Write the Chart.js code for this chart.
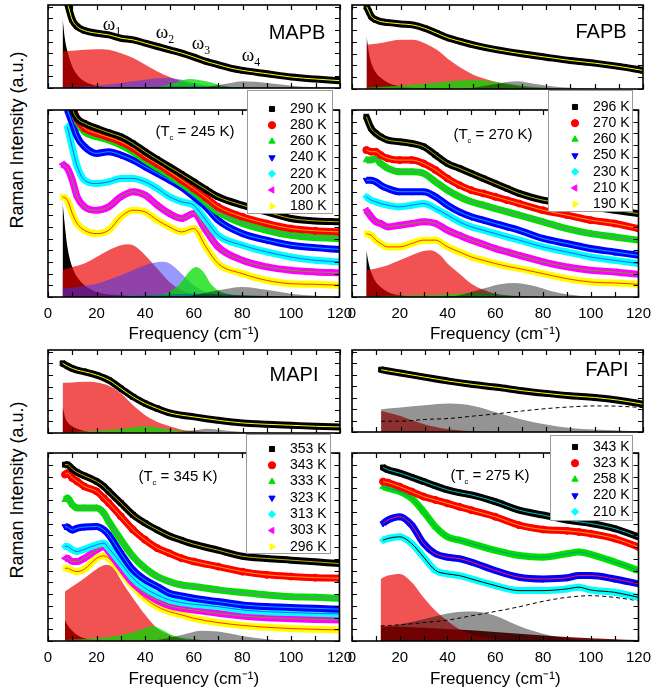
<!DOCTYPE html>
<html>
<head>
<meta charset="utf-8">
<script src="https://cdn.jsdelivr.net/npm/chart.js@4.4.1/dist/chart.umd.min.js"></script>
<style>
html, body { margin: 0; padding: 0; background: #fff; }
#page { position: relative; width: 659px; height: 694px; overflow: hidden; }
.box { position: absolute; }
.ylab { position: absolute; font: 18px 'Liberation Sans', Arial, sans-serif; white-space: nowrap;
        transform: translate(-50%, -50%) rotate(-90deg); }
</style>
</head>
<body>
<div id="page">
  <div class="ylab" style="left:17px;top:140px">Raman Intensity (a.u.)</div>
  <div class="ylab" style="left:17px;top:490px">Raman Intensity (a.u.)</div>
  <div class="box" style="left:0;top:0"><canvas id="mapbTop" width="360" height="100"></canvas></div>
  <div class="box" style="left:0;top:85px"><canvas id="mapb" width="360" height="264"></canvas></div>
  <div class="box" style="left:330px;top:0"><canvas id="fapbTop" width="329" height="100"></canvas></div>
  <div class="box" style="left:330px;top:85px"><canvas id="fapb" width="329" height="264"></canvas></div>
  <div class="box" style="left:0;top:345px"><canvas id="mapiTop" width="360" height="100"></canvas></div>
  <div class="box" style="left:0;top:428px"><canvas id="mapi" width="360" height="266"></canvas></div>
  <div class="box" style="left:330px;top:345px"><canvas id="fapiTop" width="329" height="100"></canvas></div>
  <div class="box" style="left:330px;top:428px"><canvas id="fapi" width="329" height="266"></canvas></div>
</div>
<script>
"use strict";

// ---- MAPB ----
const MAPB_TOP_X = [8, 10, 12, 15, 20, 25, 30, 35, 40, 45, 50, 55, 60, 65, 70, 75, 80, 90, 100, 110, 120];
const MAPB_TOP_Y = [102, 82, 74, 69.2, 66, 64, 60, 58, 54, 50, 46, 42, 37.2, 32, 28, 24, 21.2, 17.2, 13.2, 10.8, 8.8];
const MAPB_TOP_CP = [[6, 84], [7, 58], [8, 44], [10, 26], [12, 16], [15, 8], [20, 2.8], [30, 0.4], [40, 0]];
const MAPB_TOP_W1 = [[6, 44], [10, 44.8], [15, 46], [20, 46.8], [25, 46], [30, 42], [35, 36], [40, 28], [45, 20], [50, 13.2], [55, 8], [60, 4], [70, 0.8], [80, 0]];
const MAPB_TOP_W2 = [[6, 1.2], [20, 2.8], [30, 6], [40, 10], [48, 12], [55, 10], [60, 6], [70, 1.6], [80, 0]];
const MAPB_TOP_W3 = [[40, 0], [45, 1.2], [52, 6], [58, 10.8], [65, 8], [70, 4], [75, 1.2], [85, 0]];
const MAPB_TOP_W4 = [[60, 0], [65, 1.2], [75, 6], [80, 8], [90, 6], [100, 2.8], [110, 0.8], [120, 0.2]];
const MAPB_TOP_W5 = [[30, 0], [40, 0.8], [55, 2], [70, 1.2], [85, 0]];

const MAPB_X = [6, 8, 10, 12, 15, 20, 25, 30, 35, 40, 45, 50, 55, 60, 65, 70, 80, 90, 100, 110, 120];
const MAPB_LABELS = ['290 K', '280 K', '260 K', '240 K', '220 K', '200 K', '180 K'];
const MAPB_290 = [null, 115, 101, 95.5, 92.9, 90.2, 87.9, 85.7, 82.1, 77.7, 73.6, 69.6, 65.7, 61.6, 57.5, 53.6, 49.1, 45.5, 42, 40.7, 40.2];
const MAPB_280 = [null, 112, 103, 95, 90.2, 87.5, 85.4, 83, 79.5, 75, 71.1, 67, 62.5, 58, 53.2, 48.2, 42.9, 39.3, 36.6, 35.4, 34.8];
const MAPB_260 = [null, 110, 102, 94, 88.4, 85.7, 83.9, 81.3, 77.7, 73.2, 69.1, 65.2, 60.7, 56.3, 50.9, 45.5, 39.3, 35.7, 33, 31.8, 31.3];
const MAPB_240 = [null, 100, 92.9, 85.7, 80.4, 76.8, 77.7, 75.9, 73.2, 69.6, 66.1, 62.5, 58.6, 53.6, 48.2, 41.1, 33.9, 30.4, 27.7, 26.4, 25.4];
const MAPB_220 = [null, 91, 80, 70, 62.5, 60.7, 61.6, 63.4, 63.4, 61.6, 58, 53.6, 50.9, 49.1, 41.1, 33, 27.7, 24.1, 21.4, 19.6, 18.8];
const MAPB_200 = [71, 68.8, 62.5, 53.6, 48.2, 46.4, 48.2, 53.6, 56.3, 54.5, 49.1, 44.6, 42, 44.6, 35.7, 26.8, 19.6, 16.1, 14.3, 13.4, 12.9];
const MAPB_180 = [53.6, 51.8, 44.6, 39.3, 35.7, 33.9, 35.7, 42.9, 46.4, 45.5, 41.1, 37.5, 34.8, 36.6, 26.8, 17.9, 12.5, 8.9, 7.1, 6.8, 6.3];
const MAPB_CP = [[6, 50.9], [7, 37.5], [8, 26.8], [10, 16], [12, 10.7], [15, 6.3], [20, 2.7], [30, 0.9], [40, 0]];
const MAPB_W1 = [[6, 14.3], [10, 16], [15, 17.9], [20, 21.4], [25, 25], [30, 27.7], [33, 28.2], [36, 27], [40, 22.3], [45, 15.2], [50, 8], [55, 3.6], [60, 1.4], [70, 0]];
const MAPB_W2 = [[6, 4.5], [10, 5], [20, 7.1], [30, 11.6], [40, 17], [47, 18.8], [50, 17.9], [55, 12.5], [60, 6.3], [65, 2.7], [70, 0.9], [80, 0]];
const MAPB_W3 = [[40, 0], [50, 2.7], [55, 8], [58, 13.4], [61, 16], [64, 13.4], [67, 7.1], [70, 3.6], [75, 1.4], [85, 0]];
const MAPB_W4 = [[55, 0], [60, 0.9], [70, 3.6], [80, 5.4], [90, 3.9], [100, 1.8], [110, 0.7], [120, 0.4]];
const MAPB_W5 = [[20, 0], [30, 0.5], [50, 1.5], [60, 1.8], [70, 1.5], [90, 0.5], [100, 0]];

// ---- FAPB ----
const FAPB_TOP_X = [6, 7, 8, 10, 12, 15, 20, 25, 30, 35, 40, 45, 50, 60, 70, 80, 90, 100, 110, 120];
const FAPB_TOP_Y = [98, 92, 86.2, 82.2, 80.2, 79, 77.5, 76.3, 72.3, 66.4, 60.5, 56.5, 52.6, 46.6, 41.9, 37.9, 34, 30.8, 26.9, 22.1];
const FAPB_TOP_CP = [[6, 62.5], [7, 42.7], [8, 30.8], [10, 19], [12, 13], [15, 7.1], [20, 3.2], [30, 0.8], [40, 0]];
const FAPB_TOP_W1 = [[6, 52.6], [10, 53.8], [15, 56.5], [20, 58.5], [25, 58.5], [30, 54.5], [35, 46.6], [40, 34.8], [45, 24.9], [50, 17], [55, 11.9], [60, 7.9], [70, 2.4], [80, 0.8], [90, 0]];
const FAPB_TOP_W2 = [[6, 1.6], [20, 4], [30, 6.3], [40, 9.1], [50, 11.1], [60, 7.9], [70, 4], [80, 1.6], [90, 0]];
const FAPB_TOP_W3 = [[45, 0], [50, 1.6], [60, 6.3], [68, 9.1], [75, 6.3], [85, 2.4], [95, 0.8], [105, 0]];

const FAPB_X = [6, 8, 10, 12, 15, 20, 25, 30, 35, 40, 45, 50, 55, 60, 65, 70, 80, 90, 100, 110, 120];
const FAPB_LABELS = ['296 K', '270 K', '260 K', '250 K', '230 K', '210 K', '190 K'];
const FAPB_296 = [96.4, 90.2, 87.5, 85.7, 83.9, 83, 82.1, 80.4, 75.9, 71.4, 68.8, 66.1, 63.4, 60.7, 58, 55.4, 51.8, 50, 48.2, 46.4, 44.6];
const FAPB_270 = [78.6, 77.7, 77.7, 75.9, 74.1, 73.2, 73.2, 71.4, 67.9, 63.4, 59.8, 57.1, 55.4, 53.6, 51.8, 50, 46.4, 43.8, 41.1, 39.3, 36.6];
const FAPB_260 = [73.2, 73.2, 74.1, 71.4, 68.8, 67, 67, 66.1, 61.6, 57.1, 53.6, 50.9, 49.1, 47.3, 45.5, 43.8, 40.2, 36.6, 33.9, 32.1, 30.4];
const FAPB_250 = [62.5, 62.5, 61.6, 59.8, 58, 56.3, 56.3, 56.3, 53.6, 49.1, 45.5, 42.9, 41.1, 39.3, 37.5, 35.7, 31.3, 28.6, 25.9, 24.1, 22.3];
const FAPB_230 = [53.6, 51.8, 50.9, 50, 49.1, 48.2, 49.1, 50, 47.3, 43.8, 40.2, 37.5, 35.7, 33.9, 32.1, 30.4, 26.8, 24.1, 21.4, 19.6, 17.9];
const FAPB_210 = [46.4, 42.9, 40.2, 39.3, 37.5, 38.4, 39.3, 40.2, 39.3, 35.7, 33, 30.4, 28.2, 25.9, 24.1, 22.3, 18.8, 16.1, 14.3, 13.4, 12.1];
const FAPB_190 = [33.9, 33, 30.4, 28.6, 26.8, 26.8, 28.6, 30.4, 30.4, 26.8, 24.1, 21.4, 19.6, 17.9, 16.4, 15.2, 12.5, 9.8, 8, 7.5, 6.8];
const FAPB_CP = [[6, 25], [7, 17.9], [8, 13.4], [10, 8], [12, 5.4], [15, 2.7], [20, 0.9], [30, 0]];
const FAPB_W1 = [[6, 14.3], [10, 15.2], [15, 17], [20, 19.6], [25, 22.3], [30, 24.6], [33, 25], [37, 22.3], [40, 17.9], [45, 12.5], [50, 7.1], [55, 3.9], [60, 1.8], [70, 0.4], [80, 0]];
const FAPB_W2 = [[6, 0.4], [30, 0.9], [45, 1.8], [52, 2.3], [60, 1.4], [70, 0.5], [80, 0]];
const FAPB_W3 = [[40, 0], [45, 0.9], [55, 4.5], [62, 6.8], [68, 7.5], [75, 6.3], [85, 2.7], [95, 0.7], [105, 0]];

// ---- MAPI ----
const MAPI_TOP_X = [6, 8, 10, 12, 15, 20, 25, 30, 35, 40, 45, 50, 55, 60, 70, 80, 90, 100, 110, 120];
const MAPI_TOP_Y = [83.9, 80.6, 77.8, 75.8, 73.8, 69.8, 63.7, 53.6, 43.5, 35.5, 29.4, 24.2, 21.4, 19.4, 15.3, 12.1, 10.5, 9.3, 8.1, 7.3];
const MAPI_TOP_CP = [[6, 31.5], [7, 19.4], [8, 13.3], [10, 8.1], [12, 5.2], [15, 2.4], [20, 0.8], [30, 0]];
const MAPI_TOP_W1 = [[6, 60.5], [10, 60.9], [15, 61.7], [20, 60.9], [25, 57], [30, 47.6], [35, 33.5], [40, 21.4], [45, 13.3], [50, 8.1], [55, 4], [60, 2], [70, 0.4], [80, 0]];
const MAPI_TOP_W2 = [[6, 0.8], [20, 2.4], [30, 4.8], [40, 8.1], [45, 6.5], [50, 4], [60, 1.2], [70, 0]];
const MAPI_TOP_W3 = [[45, 0], [50, 0.4], [60, 3.2], [65, 5.2], [70, 4], [80, 1.2], [90, 0]];

const MAPI_X = [7, 8, 10, 12, 15, 20, 23, 25, 30, 35, 40, 45, 50, 55, 60, 70, 80, 90, 100, 110, 120];
const MAPI_LABELS = ['353 K', '343 K', '333 K', '323 K', '313 K', '303 K', '296 K'];
const MAPI_353 = [93.8, 93.8, 91.5, 89.7, 87.9, 84.9, 82.2, 79.6, 73.4, 67.1, 62.7, 59.1, 55.9, 53.6, 51.5, 48.3, 45.1, 43.9, 43, 42.1, 41.2];
const MAPI_343 = [88.5, 89.3, 86.7, 84.9, 82.2, 79.6, 76, 73.4, 66.3, 59.2, 53.8, 49.4, 46.7, 44, 42.3, 39.6, 36.9, 35.2, 34.3, 33.7, 33.4];
const MAPI_333 = [75.1, 76, 72.5, 70.7, 70.7, 70.7, 68, 63.6, 53.8, 44.9, 38.7, 34.3, 31.6, 29.8, 29, 27.2, 25.8, 24.5, 23.6, 23.3, 22.7];
const MAPI_323 = [60.9, 60.6, 59.1, 60, 60.6, 60.9, 59.1, 56.5, 46.7, 37.8, 32.5, 29, 25.4, 24, 22.7, 21, 19.2, 18.3, 17.8, 17.4, 16.9];
const MAPI_313 = [50.3, 50.3, 48.5, 47.6, 48.8, 51.2, 52, 49.4, 41.4, 33.4, 28.1, 24.5, 21.8, 20.4, 19.5, 18.3, 16.5, 15.6, 15.1, 14.7, 14.4];
const MAPI_303 = [44, 44, 42.3, 42.3, 44, 48.5, 50.3, 47.6, 38.7, 30.7, 25.4, 21.5, 18.8, 17.4, 16.5, 14.7, 13.3, 12.4, 11.9, 11.5, 11.2];
const MAPI_296 = [38.7, 38.7, 37.5, 36.9, 38.2, 44, 45.3, 44, 36.9, 29, 22.7, 18.3, 15.6, 13.9, 12.1, 9.8, 8.3, 7.3, 6.6, 6.2, 5.9];
const MAPI_CP = [[7, 11.2], [8, 8.5], [10, 5.5], [12, 3.2], [15, 1.4], [20, 0.5], [30, 0]];
const MAPI_W1 = [[7, 26.3], [10, 29], [15, 33.4], [20, 38.2], [24, 40.5], [27, 38.7], [30, 32.5], [35, 22.7], [40, 13.9], [45, 6.7], [50, 3.2], [55, 0.9], [65, 0]];
const MAPI_W2 = [[7, 0.5], [20, 1.4], [30, 3.2], [38, 5.9], [43, 8], [47, 5.9], [52, 2.7], [60, 0.9], [70, 0]];
const MAPI_W3 = [[40, 0], [45, 0.5], [55, 3.2], [63, 5.5], [70, 5], [80, 2.7], [90, 0.9], [100, 0]];

// ---- FAPI ----
const FAPI_TOP_X = [12, 15, 20, 30, 40, 50, 60, 70, 80, 90, 100, 110, 120];
const FAPI_TOP_Y = [76, 74.4, 71.9, 66.9, 62, 57.9, 54.5, 50.4, 47.1, 44.2, 42.1, 38.8, 33.9];
const FAPI_TOP_W1 = [[12, 25.6], [15, 23.6], [20, 19.4], [25, 14], [30, 9.1], [35, 5.8], [40, 3.3], [50, 0.8], [60, 0]];
const FAPI_TOP_W2 = [[12, 27.7], [20, 29.8], [30, 32.6], [40, 34.7], [50, 31.8], [60, 23.6], [70, 15.3], [80, 9.1], [90, 5], [100, 2.9], [110, 1.7], [120, 0.8]];
const FAPI_TOP_BG = [[12, 13.2], [20, 13.2], [30, 15.3], [40, 16.5], [50, 19.4], [60, 22.3], [70, 25.6], [80, 28.5], [90, 30.6], [100, 31.8], [110, 31.4], [120, 29.8]];

const FAPI_X = [13, 15, 20, 25, 30, 35, 40, 45, 50, 60, 70, 80, 90, 95, 100, 110, 120];
const FAPI_LABELS = ['343 K', '323 K', '258 K', '220 K', '210 K'];
const FAPI_343 = [92.3, 91.1, 89.3, 87.1, 84.8, 82.5, 80.4, 78.9, 77.7, 74.1, 69.6, 67, 64.3, 63.4, 62.5, 59.8, 55.4];
const FAPI_323 = [84.8, 84.3, 82.1, 79.5, 76.8, 75, 73.2, 71.4, 69.6, 66.1, 61.6, 59.3, 58.6, 58, 57.1, 54.5, 50];
const FAPI_258 = [82.1, 81.3, 79.5, 75.9, 68.8, 60.7, 55.4, 53.6, 51.8, 48.2, 45.5, 44.6, 46.4, 47.3, 46.1, 42, 37.5];
const FAPI_220 = [62.5, 64.3, 66.1, 61.6, 51.8, 46.4, 44.6, 43.8, 42, 37.5, 33.9, 33, 33.6, 34.8, 34.8, 33, 30.4];
const FAPI_210 = [53.6, 54.5, 55.4, 51.8, 44.6, 37.5, 35.7, 34.8, 33, 29.5, 26.8, 26.8, 27.7, 28.6, 27.1, 25.9, 23.2];
const FAPI_W0 = [[12, 8], [30, 7.1], [50, 5.7], [70, 3.9], [90, 2.1], [110, 0.9], [120, 0.5]];
const FAPI_W1 = [[12, 33], [15, 34.8], [20, 35.7], [25, 31.3], [30, 23.2], [35, 16.1], [40, 10.7], [45, 6.3], [50, 3.6], [60, 0.9], [70, 0]];
const FAPI_W2 = [[12, 7.1], [20, 8.9], [30, 11.6], [40, 14.6], [48, 15.7], [55, 15.2], [60, 13.4], [70, 8], [80, 3.9], [90, 1.4], [100, 0.4], [110, 0]];
const FAPI_BG = [[12, 8], [20, 8.6], [30, 9.8], [40, 11.1], [50, 13.4], [60, 15.7], [70, 18.2], [80, 21.1], [90, 23.2], [100, 24.1], [110, 23.2], [120, 21.4]];

// ---- styles ----
const FONT = "'Liberation Sans', Arial, Helvetica, sans-serif";
const SERIF = "'Liberation Serif', 'Times New Roman', serif";
const COLORS = ['#000000', '#ff0000', '#00e000', '#0000ff', '#00ffff', '#ff00ff', '#ffff00'];
const FITS = ['#b4b400', '#ffa000', '#9a6ac8', '#00a8ff', '#2060ff', '#60b000', '#ff3000'];
const FAPI_FITS = ['#00c0c0', '#ffa000', '#0090a0', '#ff2020', '#000000'];
const STYLES = ['rect', 'circle', 'triangle', 'triangle', 'rectRot', 'triangle', 'triangle'];
const ROTS = [0, 0, 0, 180, 0, -90, 90];
const C_CP = '#000000';
const C_RED = 'rgba(235,0,0,0.68)';
const C_BLUE = 'rgba(50,50,255,0.5)';
const C_GREEN = 'rgba(0,220,0,0.75)';
const C_GREY = 'rgba(0,0,0,0.42)';
const C_TEAL = 'rgba(0,128,128,0.85)';
const C_DARK = 'rgba(110,0,0,0.95)';

Chart.defaults.font.family = FONT;
Chart.defaults.color = '#000';

const pts = arr => arr.map(p => ({x: p[0], y: p[1]}));

function drawRich(ctx, t) {
  const fam = t.font || FONT;
  const subScale = t.subScale || 0.62;
  const sizeOf = p => p[1] ? t.size * subScale : t.size;
  let w = 0;
  t.parts.forEach(p => { ctx.font = sizeOf(p) + 'px ' + fam; w += ctx.measureText(p[0]).width; });
  let x = t.cx - w / 2;
  t.parts.forEach(p => {
    ctx.font = sizeOf(p) + 'px ' + fam;
    ctx.fillText(p[0], x, t.cy + (p[1] ? t.size * (t.subDrop || 0.38) : 0));
    x += ctx.measureText(p[0]).width;
  });
}

const decor = {
  id: 'decor',
  afterDraw(chart, args, o) {
    const ctx = chart.ctx, a = chart.chartArea;
    const xs = chart.scales.x, ys = chart.scales.y;
    ctx.save();
    ctx.strokeStyle = '#000';
    ctx.lineWidth = 1.2;
    ctx.beginPath();
    for (let v = 0; v <= 120; v += 10) {
      const px = Math.round(xs.getPixelForValue(v)) + 0.5;
      ctx.moveTo(px, a.bottom); ctx.lineTo(px, a.bottom - 5);
      ctx.moveTo(px, a.top); ctx.lineTo(px, a.top + 5);
    }
    for (let v = 0; v <= 100; v += o.yStep) {
      const py = Math.round(ys.getPixelForValue(v)) + 0.5;
      ctx.moveTo(a.left, py); ctx.lineTo(a.left + 5, py);
      ctx.moveTo(a.right, py); ctx.lineTo(a.right - 5, py);
    }
    ctx.stroke();
    ctx.lineWidth = 1.6;
    ctx.strokeRect(a.left, a.top, a.right - a.left, a.bottom - a.top);

    ctx.fillStyle = '#000';
    ctx.textBaseline = 'middle';
    ctx.textAlign = 'left';
    (o.texts || []).forEach(t => drawRich(ctx, {...t, cx: a.left + t.x, cy: a.top + t.y}));

    const L = o.legend;
    if (L) {
      const bx = a.left + L.dx, by = a.top + L.dy;
      ctx.fillStyle = '#fff';
      ctx.fillRect(bx, by, L.w, L.h);
      ctx.strokeStyle = '#9a9a9a';
      ctx.lineWidth = 1;
      ctx.strokeRect(bx + 0.5, by + 0.5, L.w, L.h);
      ctx.font = '14px ' + FONT;
      L.labels.forEach((lab, i) => {
        const yy = by + L.first + i * L.gap;
        ctx.fillStyle = COLORS[i];
        ctx.strokeStyle = COLORS[i];
        Chart.helpers.drawPoint(ctx, {pointStyle: STYLES[i], rotation: ROTS[i], radius: 3.6, borderWidth: 1}, bx + L.mx, yy);
        ctx.fillStyle = '#000';
        ctx.fillText(lab, bx + L.tx, yy);
      });
    }
    ctx.restore();
  }
};

function makeChart(id, p) {
  const datasets = [];
  p.comps.forEach((c, i) => datasets.push({
    data: pts(c[0]), backgroundColor: c[1], borderWidth: 0, pointRadius: 0,
    fill: 'origin', cubicInterpolationMode: 'monotone', order: 90 - i, clip: 0
  }));
  (p.dashed || []).forEach(d => datasets.push({
    data: pts(d), borderColor: '#000', borderWidth: 1, borderDash: [4, 3], pointRadius: 0,
    fill: false, cubicInterpolationMode: 'monotone', order: 45, clip: 0
  }));
  p.series.forEach((s, i) => {
    const d = [];
    p.x.forEach((v, k) => { if (s[k] != null) d.push({x: v, y: s[k]}); });
    datasets.push({
      data: d, borderColor: COLORS[i], backgroundColor: COLORS[i], borderWidth: 7,
      pointStyle: STYLES[i], pointRotation: ROTS[i], pointRadius: 3.5, pointBorderWidth: 1,
      fill: false, cubicInterpolationMode: 'monotone', order: 21 + 2 * i, clip: 0
    });
    datasets.push({
      data: d, borderColor: p.fits[i], borderWidth: 1, pointRadius: 0,
      fill: false, cubicInterpolationMode: 'monotone', order: 20 + 2 * i, clip: 0
    });
  });

  return new Chart(document.getElementById(id), {
    type: 'line',
    data: {datasets},
    plugins: [decor],
    options: {
      responsive: false, animation: false, events: [], devicePixelRatio: 1,
      layout: {padding: p.pad},
      plugins: {
        legend: {display: false}, tooltip: {enabled: false},
        decor: {yStep: p.yStep, texts: p.texts, legend: p.legend}
      },
      scales: {
        x: {
          type: 'linear', min: 0, max: 120,
          afterFit: s => { s.height = p.xh; },
          grid: {display: false, drawTicks: false}, border: {display: false},
          ticks: {display: p.xh > 0, stepSize: 20, autoSkip: false, maxRotation: 0, padding: 8, font: {size: 15}, color: '#000'},
          title: {display: p.xh > 0, text: 'Frequency (cm⁻¹)', font: {size: 17}, color: '#000', padding: {top: 0, bottom: 4}}
        },
        y: {
          type: 'linear', min: 0, max: 100,
          afterFit: s => { s.width = 0; },
          grid: {display: false, drawTicks: false}, border: {display: false},
          ticks: {display: false}
        }
      }
    }
  });
}

const tc = (v, x, y) => ({x, y, size: 15, subScale: 0.5, subDrop: 0.42, parts: [['(T'], ['c', 1], [' = ' + v + ' K)']]});
const omega = (n, x, y) => ({x, y, size: 19, font: SERIF, parts: [['ω'], [String(n), 1]]});
const name = (s, x, y) => ({x, y, size: 20, parts: [[s]]});

makeChart('mapbTop', {
  pad: {left: 48, right: 20, top: 5, bottom: 12}, xh: 0, yStep: 14,
  x: MAPB_TOP_X, series: [MAPB_TOP_Y], fits: ['#ffff00'],
  comps: [[MAPB_TOP_CP, C_CP], [MAPB_TOP_W1, C_RED], [MAPB_TOP_W2, C_BLUE], [MAPB_TOP_W3, C_GREEN], [MAPB_TOP_W5, C_TEAL], [MAPB_TOP_W4, C_GREY]],
  texts: [omega(1, 64, 20), omega(2, 117, 28), omega(3, 153, 39), omega(4, 203, 51), name('MAPB', 249, 28)]
});
makeChart('mapb', {
  pad: {left: 48, right: 20, top: 25, bottom: 0}, xh: 52, yStep: 6.25,
  x: MAPB_X, series: [MAPB_290, MAPB_280, MAPB_260, MAPB_240, MAPB_220, MAPB_200, MAPB_180], fits: FITS,
  comps: [[MAPB_CP, C_CP], [MAPB_W1, C_RED], [MAPB_W2, C_BLUE], [MAPB_W3, C_GREEN], [MAPB_W5, C_TEAL], [MAPB_W4, C_GREY]],
  texts: [tc(245, 147, 22)],
  legend: {labels: MAPB_LABELS, dx: 199, dy: -20, w: 85, h: 123, first: 19, gap: 16.2, mx: 25, tx: 43}
});
makeChart('fapbTop', {
  pad: {left: 22, right: 16, top: 5, bottom: 11}, xh: 0, yStep: 14,
  x: FAPB_TOP_X, series: [FAPB_TOP_Y], fits: ['#ffff00'],
  comps: [[FAPB_TOP_CP, C_CP], [FAPB_TOP_W1, C_RED], [FAPB_TOP_W2, C_GREEN], [FAPB_TOP_W3, C_GREY]],
  texts: [name('FAPB', 249, 27.5)]
});
makeChart('fapb', {
  pad: {left: 22, right: 16, top: 25, bottom: 0}, xh: 52, yStep: 6.25,
  x: FAPB_X, series: [FAPB_296, FAPB_270, FAPB_260, FAPB_250, FAPB_230, FAPB_210, FAPB_190], fits: FITS,
  comps: [[FAPB_CP, C_CP], [FAPB_W1, C_RED], [FAPB_W2, C_GREEN], [FAPB_W3, C_GREY]],
  texts: [tc(270, 141, 25)],
  legend: {labels: FAPB_LABELS, dx: 196, dy: -20, w: 84, h: 121, first: 17, gap: 16.2, mx: 27, tx: 45}
});
makeChart('mapiTop', {
  pad: {left: 48, right: 20, top: 5, bottom: 12}, xh: 0, yStep: 14,
  x: MAPI_TOP_X, series: [MAPI_TOP_Y], fits: ['#ffff00'],
  comps: [[MAPI_TOP_CP, C_CP], [MAPI_TOP_W1, C_RED], [MAPI_TOP_W2, C_GREEN], [MAPI_TOP_W3, C_GREY]],
  texts: [name('MAPI', 246, 25)]
});
makeChart('mapi', {
  pad: {left: 48, right: 20, top: 25, bottom: 0}, xh: 53, yStep: 6.25,
  x: MAPI_X, series: [MAPI_353, MAPI_343, MAPI_333, MAPI_323, MAPI_313, MAPI_303, MAPI_296], fits: FITS,
  comps: [[MAPI_CP, C_CP], [MAPI_W1, C_RED], [MAPI_W2, C_GREEN], [MAPI_W3, C_GREY]],
  texts: [tc(345, 130, 24)],
  legend: {labels: MAPI_LABELS, dx: 198, dy: -19, w: 84, h: 119, first: 15, gap: 16.3, mx: 26, tx: 44}
});
makeChart('fapiTop', {
  pad: {left: 22, right: 16, top: 5, bottom: 13}, xh: 0, yStep: 14,
  x: FAPI_TOP_X, series: [FAPI_TOP_Y], fits: ['#ffff00'],
  comps: [[FAPI_TOP_W1, C_RED], [FAPI_TOP_W2, C_GREY]],
  dashed: [FAPI_TOP_BG],
  texts: [name('FAPI', 255, 20)]
});
makeChart('fapi', {
  pad: {left: 22, right: 16, top: 25, bottom: 0}, xh: 53, yStep: 6.25,
  x: FAPI_X, series: [FAPI_343, FAPI_323, FAPI_258, FAPI_220, FAPI_210], fits: FAPI_FITS,
  comps: [[FAPI_W0, C_DARK], [FAPI_W1, C_RED], [FAPI_W2, C_GREY]],
  dashed: [FAPI_BG],
  texts: [tc(275, 138, 23)],
  legend: {labels: FAPI_LABELS, dx: 198, dy: -18, w: 82, h: 85, first: 12, gap: 16.2, mx: 25, tx: 43}
});
</script>
</body>
</html>
